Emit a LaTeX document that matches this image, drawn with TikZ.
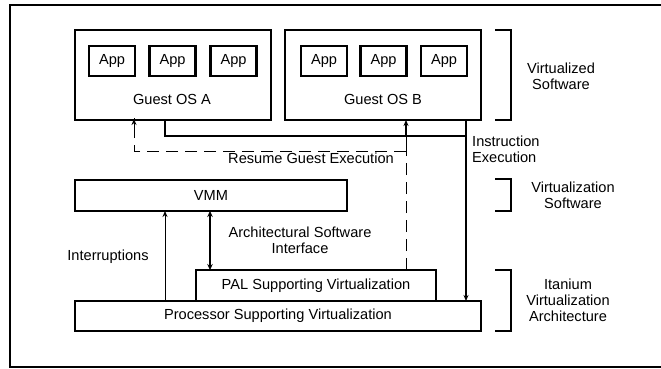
\documentclass[tikz,border=0pt]{standalone}
\usepackage{fontspec}
\setmainfont{Liberation Sans}
\usetikzlibrary{arrows.meta}
\begin{document}
\begin{tikzpicture}[x=1pt,y=-1pt,
  box/.style={draw,line width=1.6pt,inner sep=0pt,outer sep=0pt,font=\fontsize{14.6}{15.8}\selectfont},
  appbox/.style={draw,line width=2.2pt,inner sep=0pt,outer sep=0pt,minimum width=46pt,minimum height=30pt,font=\fontsize{14.6}{15.8}\selectfont},
  lbl/.style={inner sep=0pt,font=\fontsize{14.6}{15.8}\selectfont,align=center},
  brk/.style={line width=1.4pt},
  tip/.style={-{Stealth[length=6pt,width=5pt]}},
  dsh/.style={line width=1pt,dash pattern=on 12pt off 7pt}]
\useasboundingbox (0,0) rectangle (661,369);
% frame
\draw[line width=1.8pt] (662,5) -- (10,5) -- (10,367) -- (662,367);
% guest OS boxes
\node[box,minimum width=196pt,minimum height=90pt] (gA) at (173,75) {};
\node[box,minimum width=196pt,minimum height=90pt] (gB) at (383,75) {};
\node[lbl] (gAl) at (172,99) {Guest OS A};
\node[lbl] (gBl) at (383,99) {Guest OS B};
\node[appbox] (a1) at (112,61) {App};
\node[appbox] (a2) at (172.5,61) {App};
\node[appbox] (a3) at (233.5,61) {App};
\node[appbox] (b1) at (324,61) {App};
\node[appbox] (b2) at (383.5,61) {App};
\node[appbox] (b3) at (444,61) {App};
% lower boxes
\node[box,minimum width=272pt,minimum height=31pt] (vmm) at (211,195.5) {VMM};
\node[box,line width=1.3pt,minimum width=240pt,minimum height=31pt] (pal) at (316,285.5) {PAL Supporting Virtualization};
\node[box,minimum width=406pt,minimum height=30pt] (proc) at (278,316) {Processor Supporting Virtualization};
% brackets
\draw[brk] (495,30) -- (511,30) -- (511,120) -- (495,120);
\draw[brk] (495,179) -- (511,179) -- (511,211) -- (495,211);
\draw[brk] (495,270) -- (511,270) -- (511,331) -- (495,331);
\node[lbl] (t1) at (561,76) {Virtualized\\Software};
\node[lbl] (t2) at (573,195) {Virtualization\\Software};
\node[lbl] (t3) at (568,300) {Itanium\\Virtualization\\Architecture};
% instruction execution
\coordinate (ia) at (165,136);
\coordinate (ib) at (466,136);
\draw[line width=1.6pt] (gA.south -| ia) -- (ia) -- (ib);
\draw[line width=1.8pt,tip] (gB.south -| ib) -- (proc.north -| ib);
\node[lbl,anchor=west,align=left] (ie) at (472,149) {Instruction\\Execution};
% resume guest execution
\coordinate (ra) at (406,151);
\coordinate (rb) at (134,151);
\node[lbl] (rg) at (311,158) {Resume Guest Execution};
\draw[dsh] (pal.north -| ra) -- (ra);
\draw[dsh] (ra) -- (rb) -- ([yshift=2pt]gA.south -| rb);
\draw[line width=1pt,tip] ([yshift=-8pt]gA.south -| rb) -- ([yshift=1pt]gA.south -| rb);
\draw[line width=1pt] (ra) -- (ib -| ra);
\draw[line width=1.3pt,tip] (ib -| ra) -- (gB.south -| ra);
% interruptions
\coordinate (ic) at (165,0);
\draw[line width=1pt,tip] (proc.north -| ic) -- (vmm.south -| ic);
\node[lbl] (il) at (108,257) {Interruptions};
% architectural software interface
\coordinate (ac) at (210,0);
\draw[line width=2.2pt,{Stealth[length=6pt,width=5.5pt]}-{Stealth[length=6pt,width=5.5pt]}] (vmm.south -| ac) -- (pal.north -| ac);
\node[lbl] (asi) at (300,240) {Architectural Software\\Interface};
\end{tikzpicture}
\end{document}
